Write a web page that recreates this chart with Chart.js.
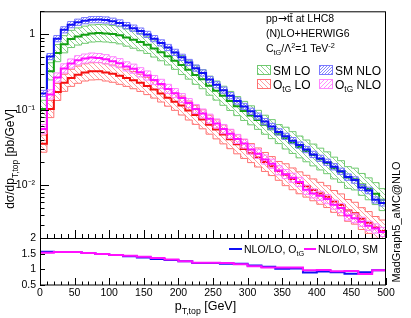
<!DOCTYPE html>
<html><head><meta charset="utf-8">
<script src="https://cdn.jsdelivr.net/npm/chart.js@4.4.1/dist/chart.umd.min.js"></script>
<style>html,body{margin:0;padding:0;background:#fff}#wrap{position:relative;width:411px;height:318px}canvas{position:absolute;left:0;top:0}</style>
</head><body><div id="wrap"><canvas id="c1" width="411" height="318"></canvas><canvas id="c2" width="411" height="318"></canvas></div>
<script>
const ptEdges = [0,10,20,30,40,50,60,70,80,90,100,110,120,130,140,150,160,170,180,190,200,210,220,230,240,250,260,270,280,290,300,310,320,330,340,350,360,370,380,390,400,410,420,430,440,450,460,470,480,490,500];
const ratioEdges = [0,20,40,60,80,100,120,140,160,180,200,220,240,260,280,300,320,340,360,380,400,420,440,460,480,500];
const xTickLabels = [0,50,100,150,200,250,300,350,400,450,500];

const smLO = [0.102,0.321,0.560,0.733,0.861,0.928,0.979,1.018,1.030,1.020,1.000,0.962,0.898,0.843,0.782,0.720,0.644,0.575,0.507,0.443,0.388,0.337,0.288,0.252,0.207,0.178,0.152,0.130,0.111,0.0959,0.0838,0.0730,0.0629,0.0550,0.0473,0.0418,0.0365,0.0319,0.0283,0.0250,0.0221,0.0197,0.0168,0.0151,0.0126,0.0120,0.0102,0.0089,0.0077,0.0064];
const smLOUp = [0.133,0.417,0.728,0.953,1.119,1.206,1.273,1.323,1.339,1.326,1.300,1.251,1.167,1.096,1.017,0.936,0.837,0.748,0.659,0.576,0.520,0.452,0.386,0.338,0.277,0.239,0.204,0.174,0.149,0.1285,0.1123,0.0978,0.0843,0.0737,0.0634,0.0585,0.0511,0.0447,0.0396,0.0350,0.0309,0.0276,0.0235,0.0211,0.0176,0.0168,0.0143,0.0125,0.0108,0.0090];
const smLODown = [0.0785,0.247,0.431,0.564,0.663,0.715,0.754,0.784,0.793,0.785,0.770,0.741,0.691,0.649,0.602,0.554,0.496,0.443,0.390,0.341,0.291,0.253,0.216,0.189,0.155,0.1335,0.114,0.0975,0.0833,0.0719,0.0629,0.0548,0.0472,0.0413,0.0355,0.0301,0.0263,0.0230,0.0204,0.0180,0.0159,0.0142,0.0121,0.0109,0.00907,0.00864,0.00734,0.00641,0.00554,0.00461];

const smNLO = [0.164,0.503,0.869,1.137,1.332,1.432,1.502,1.548,1.552,1.534,1.475,1.402,1.293,1.196,1.094,0.988,0.869,0.764,0.664,0.572,0.492,0.420,0.354,0.305,0.250,0.213,0.181,0.153,0.130,0.110,0.0950,0.0818,0.0694,0.0598,0.0507,0.0443,0.0388,0.0339,0.0296,0.0255,0.0226,0.0201,0.0175,0.0153,0.0128,0.0117,0.0093,0.0085,0.0064,0.0058];
const smNLOUp = [0.180,0.553,0.956,1.251,1.465,1.575,1.652,1.703,1.707,1.687,1.623,1.542,1.422,1.316,1.203,1.087,0.956,0.840,0.730,0.629,0.541,0.462,0.389,0.336,0.275,0.234,0.199,0.168,0.143,0.121,0.1045,0.0900,0.0763,0.0658,0.0558,0.0487,0.0427,0.0373,0.0326,0.0281,0.0249,0.0221,0.0193,0.0168,0.0141,0.0129,0.0102,0.0094,0.0070,0.0064];
const smNLODown = [0.149,0.458,0.791,1.035,1.212,1.303,1.367,1.409,1.412,1.396,1.342,1.276,1.177,1.088,0.996,0.899,0.791,0.695,0.604,0.521,0.448,0.382,0.322,0.278,0.228,0.194,0.165,0.139,0.118,0.100,0.0865,0.0744,0.0632,0.0544,0.0461,0.0403,0.0353,0.0308,0.0269,0.0232,0.0206,0.0183,0.0159,0.0139,0.0116,0.0106,0.0085,0.0077,0.0058,0.0053];

const otgLO = [0.0354,0.1018,0.171,0.226,0.263,0.290,0.311,0.321,0.323,0.311,0.299,0.281,0.263,0.245,0.226,0.205,0.185,0.164,0.144,0.127,0.113,0.097,0.0851,0.0742,0.0631,0.0547,0.0469,0.0405,0.0347,0.0301,0.0265,0.0232,0.0202,0.0178,0.0154,0.0137,0.0121,0.0107,0.00965,0.00864,0.00776,0.00703,0.00607,0.00547,0.00462,0.00424,0.00360,0.00319,0.00275,0.00247];
const otgLOUp = [0.0460,0.1323,0.222,0.294,0.342,0.377,0.404,0.417,0.420,0.404,0.389,0.365,0.342,0.319,0.294,0.267,0.241,0.213,0.187,0.165,0.151,0.130,0.114,0.0994,0.0846,0.0733,0.0628,0.0543,0.0465,0.0403,0.0355,0.0311,0.0271,0.0239,0.0206,0.0192,0.0169,0.0150,0.0135,0.0121,0.0109,0.00984,0.00850,0.00766,0.00647,0.00594,0.00504,0.00447,0.00385,0.00346];
const otgLODown = [0.0273,0.0784,0.132,0.174,0.203,0.223,0.239,0.247,0.249,0.239,0.230,0.216,0.203,0.189,0.174,0.158,0.142,0.126,0.111,0.0978,0.0848,0.0728,0.0638,0.0557,0.0473,0.0410,0.0352,0.0304,0.0260,0.0226,0.0199,0.0174,0.0152,0.0134,0.0116,0.00986,0.00871,0.00770,0.00695,0.00622,0.00559,0.00506,0.00437,0.00394,0.00333,0.00305,0.00259,0.00230,0.00198,0.00178];

const otgNLO = [0.0552,0.159,0.266,0.351,0.407,0.450,0.473,0.488,0.481,0.464,0.436,0.411,0.373,0.348,0.312,0.283,0.246,0.219,0.188,0.165,0.142,0.122,0.102,0.0890,0.0757,0.0656,0.0553,0.0478,0.0409,0.0355,0.0297,0.0260,0.0218,0.0192,0.0157,0.0140,0.0125,0.0110,0.00869,0.00778,0.00722,0.00654,0.00552,0.00498,0.00397,0.00365,0.00328,0.00290,0.00267,0.00240];
const otgNLOUp = [0.0635,0.183,0.306,0.404,0.468,0.518,0.544,0.561,0.553,0.534,0.501,0.473,0.429,0.400,0.359,0.325,0.283,0.252,0.216,0.190,0.163,0.140,0.117,0.102,0.0871,0.0754,0.0636,0.0550,0.0470,0.0408,0.0342,0.0299,0.0251,0.0221,0.0181,0.0161,0.0144,0.0127,0.0100,0.00895,0.00830,0.00752,0.00635,0.00573,0.00457,0.00420,0.00377,0.00334,0.00307,0.00276];
const otgNLODown = [0.0480,0.138,0.231,0.305,0.354,0.392,0.412,0.425,0.418,0.404,0.379,0.358,0.325,0.303,0.271,0.246,0.214,0.191,0.164,0.144,0.124,0.106,0.0887,0.0774,0.0659,0.0571,0.0481,0.0416,0.0356,0.0309,0.0258,0.0226,0.0190,0.0167,0.0137,0.0122,0.0109,0.00957,0.00756,0.00677,0.00628,0.00569,0.00480,0.00433,0.00345,0.00318,0.00285,0.00252,0.00232,0.00209];

const ratioOtG = [1.56,1.55,1.55,1.52,1.49,1.46,1.42,1.38,1.33,1.30,1.26,1.20,1.20,1.18,1.18,1.12,1.08,1.02,1.03,0.90,0.93,0.91,0.86,0.91,0.97];
const ratioSM = [1.53,1.55,1.55,1.52,1.49,1.46,1.43,1.40,1.36,1.31,1.26,1.21,1.21,1.20,1.16,1.10,1.06,1.06,1.06,0.97,0.98,0.94,0.95,0.85,0.97];

const FONT = "'Liberation Sans', Arial, Helvetica, sans-serif";
const SYMFONT = "'DejaVu Sans', sans-serif";

function steps(edges, vals) {
  const pts = vals.map((v, i) => ({x: edges[i], y: v}));
  pts.push({x: edges[edges.length - 1], y: vals[vals.length - 1]});
  return pts;
}
function hatch(color, dir, s, lw) {
  const c = document.createElement('canvas'); c.width = s; c.height = s;
  const g = c.getContext('2d'); g.strokeStyle = color; g.lineWidth = lw; g.beginPath();
  if (dir === '/') {
    g.moveTo(-1, s + 1); g.lineTo(s + 1, -1);
    g.moveTo(-2, 2); g.lineTo(2, -2);
    g.moveTo(s - 2, s + 2); g.lineTo(s + 2, s - 2);
  } else {
    g.moveTo(-1, -1); g.lineTo(s + 1, s + 1);
    g.moveTo(-2, s - 2); g.lineTo(2, s + 2);
    g.moveTo(s - 2, -2); g.lineTo(s + 2, 2);
  }
  g.stroke();
  return g.createPattern(c, 'repeat');
}
const C = {
  green: {line: '#13a013', edge: '#70c970', hatch: hatch('#72c872', '\\', 5, 0.8)},
  blue: {line: '#1010f5', edge: '#7a7aff', hatch: hatch('#6a6aff', '/', 3, 0.8)},
  red: {line: '#f51010', edge: '#ff7070', hatch: hatch('#ff8585', '\\', 5, 0.8)},
  mag: {line: '#ff10ff', edge: '#ff85ff', hatch: hatch('#ff70ff', '/', 4, 0.8)}
};
function band(name, lo, hi, center, col, ord) {
  const base = {stepped: true, pointRadius: 0, pointHoverRadius: 0, tension: 0};
  return [
    Object.assign({label: name + ' low', data: steps(ptEdges, lo), borderColor: col.edge, borderWidth: 1, fill: false, order: ord + 2}, base),
    Object.assign({label: name + ' high', data: steps(ptEdges, hi), borderColor: col.edge, borderWidth: 1, fill: '-1', backgroundColor: col.hatch, order: ord + 1}, base),
    Object.assign({label: name, data: steps(ptEdges, center), borderColor: col.line, borderWidth: 2, fill: false, order: ord}, base)
  ];
}
function fontOf(p, size) { return (size * p[1]) + 'px ' + (p[3] || FONT); }
function rich(ctx, parts, x, y, size, align) {
  let w = 0;
  parts.forEach(p => { ctx.font = fontOf(p, size); w += ctx.measureText(p[0]).width; });
  let cx = align === 'center' ? x - w / 2 : (align === 'right' ? x - w : x);
  ctx.textAlign = 'left'; ctx.textBaseline = 'alphabetic';
  parts.forEach(p => { ctx.font = fontOf(p, size); ctx.fillText(p[0], cx, y + p[2]); cx += ctx.measureText(p[0]).width; });
}
function line(ctx, x1, y1, x2, y2) { ctx.beginPath(); ctx.moveTo(x1, y1); ctx.lineTo(x2, y2); ctx.stroke(); }

const mainDecor = {
  id: 'mainDecor',
  afterDraw(chart) {
    const ctx = chart.ctx, a = chart.chartArea, ys = chart.scales.y, xs = chart.scales.x;
    ctx.save();
    ctx.strokeStyle = '#000'; ctx.lineWidth = 1;
    ctx.strokeRect(a.left + 0.5, a.top + 0.5, a.right - a.left - 1, a.bottom - a.top);
    for (let k = -3; k <= 0; k++) for (let m = 1; m <= 9; m++) {
      const v = m * Math.pow(10, k);
      if (v < ys.min || v > ys.max) continue;
      const py = Math.round(ys.getPixelForValue(v)) + 0.5;
      line(ctx, a.left, py, a.left + (m === 1 ? 9 : 4.5), py);
    }
    for (let i = 0; i < ptEdges.length; i++) {
      const v = ptEdges[i];
      const px = Math.round(xs.getPixelForValue(v)) + 0.5;
      line(ctx, px, a.bottom, px, a.bottom - (v % 50 === 0 ? 8 : 4));
    }
    ctx.fillStyle = '#000';
    rich(ctx, [['pp', 1, 0], ['\u2192', 1.05, 0, SYMFONT], ['tt\u0304 at LHC8', 1, 0]], 266, 22, 10.5, 'left');
    rich(ctx, [['(N)LO+HERWIG6', 1, 0]], 266, 37, 10.5, 'left');
    rich(ctx, [['C', 1, 0], ['tG', 0.7, 2.5], ['/\u039B', 1, 0], ['2', 0.7, -4], ['=1 TeV', 1, 0], ['-2', 0.7, -4]], 266, 52, 10.5, 'left');
    const boxes = [
      [257, 65, C.green, [['SM LO', 1, 0]]],
      [319, 65, C.blue, [['SM NLO', 1, 0]]],
      [257, 79, C.red, [['O', 1, 0], ['tG', 0.7, 3], [' LO', 1, 0]]],
      [319, 79, C.mag, [['O', 1, 0], ['tG', 0.7, 3], [' NLO', 1, 0]]]
    ];
    boxes.forEach(b => {
      ctx.fillStyle = b[2].hatch; ctx.fillRect(b[0], b[1], 13, 9);
      ctx.strokeStyle = b[2].edge; ctx.lineWidth = 1; ctx.strokeRect(b[0] + 0.5, b[1] + 0.5, 13, 9);
      ctx.fillStyle = '#000'; rich(ctx, b[3], b[0] + 16, b[1] + 9.5, 12, 'left');
    });
    ctx.save(); ctx.translate(14, 159); ctx.rotate(-Math.PI / 2);
    rich(ctx, [['d\u03C3/dp', 1, 0], ['T,top', 0.7, 3.5], [' [pb/GeV]', 1, 0]], 0, 0, 12, 'center');
    ctx.restore();
    ctx.save(); ctx.translate(400, 222); ctx.rotate(-Math.PI / 2);
    rich(ctx, [['MadGraph5_aMC@NLO', 1, 0]], 0, 0, 11, 'center');
    ctx.restore();
    ctx.restore();
  }
};

const ratioDecor = {
  id: 'ratioDecor',
  afterDraw(chart) {
    const ctx = chart.ctx, a = chart.chartArea, ys = chart.scales.y, xs = chart.scales.x;
    ctx.save();
    ctx.strokeStyle = '#000'; ctx.lineWidth = 1;
    ctx.strokeRect(a.left + 0.5, a.top + 0.5, a.right - a.left - 1, a.bottom - a.top - 0.5);
    [0.5, 1, 1.5, 2].forEach(v => { const py = Math.round(ys.getPixelForValue(v)) + 0.5; line(ctx, a.left, py, a.left + 5, py); });
    for (let i = 0; i < ptEdges.length; i++) {
      const v = ptEdges[i];
      const px = Math.round(xs.getPixelForValue(v)) + 0.5;
      line(ctx, px, a.bottom, px, a.bottom - (v % 50 === 0 ? 7 : 3.5));
    }
    ctx.lineWidth = 2;
    ctx.strokeStyle = C.blue.line; line(ctx, 229, 249, 242, 249);
    ctx.strokeStyle = C.mag.line; line(ctx, 304, 249, 316, 249);
    ctx.fillStyle = '#000';
    rich(ctx, [['NLO/LO, O', 1, 0], ['tG', 0.7, 3]], 244, 253, 10.5, 'left');
    rich(ctx, [['NLO/LO, SM', 1, 0]], 318, 253, 10.5, 'left');
    rich(ctx, [['p', 1, 0], ['T,top', 0.7, 3.5], [' [GeV]', 1, 0]], 205.5, 310, 12.5, 'center');
    ctx.restore();
  }
};

Chart.defaults.font.family = FONT;
Chart.defaults.color = '#000';

new Chart(document.getElementById('c1'), {
  type: 'line',
  data: {datasets: [].concat(
    band('SM LO', smLODown, smLOUp, smLO, C.green, 40),
    band('SM NLO', smNLODown, smNLOUp, smNLO, C.blue, 20),
    band('OtG LO', otgLODown, otgLOUp, otgLO, C.red, 30),
    band('OtG NLO', otgNLODown, otgNLOUp, otgNLO, C.mag, 10)
  )},
  options: {
    responsive: false, animation: false, parsing: true,
    layout: {padding: {left: 0, right: 25, top: 7, bottom: 80}},
    plugins: {legend: {display: false}, tooltip: {enabled: false}},
    scales: {
      x: {type: 'linear', min: 0, max: 500, display: false},
      y: {type: 'logarithmic', min: 0.002, max: 2,
        afterFit: s => { s.width = 40; },
        grid: {display: false, drawTicks: false}, border: {display: false},
        ticks: {autoSkip: false, padding: 5, font: {size: 10.5},
          callback: v => { const l = Math.log10(v); if (Math.abs(l - Math.round(l)) > 1e-6) return ''; const e = Math.round(l); return e === 0 ? '1' : '10' + (e === -1 ? '\u207B\u00B9' : '\u207B\u00B2'); }}
      }
    }
  },
  plugins: [mainDecor]
});

new Chart(document.getElementById('c2'), {
  type: 'line',
  data: {datasets: [
    {label: 'NLO/LO, OtG', data: steps(ratioEdges, ratioOtG), borderColor: C.blue.line, borderWidth: 2, stepped: true, pointRadius: 0, fill: false, order: 2},
    {label: 'NLO/LO, SM', data: steps(ratioEdges, ratioSM), borderColor: C.mag.line, borderWidth: 2, stepped: true, pointRadius: 0, fill: false, order: 1}
  ]},
  options: {
    responsive: false, animation: false,
    layout: {padding: {left: 0, right: 25, top: 238, bottom: 0}},
    plugins: {legend: {display: false}, tooltip: {enabled: false}},
    scales: {
      x: {type: 'linear', min: 0, max: 500,
        afterFit: s => { s.height = 33; },
        afterBuildTicks: s => { s.ticks = xTickLabels.map(v => ({value: v})); },
        grid: {display: false, drawTicks: false}, border: {display: false},
        ticks: {autoSkip: false, maxRotation: 0, padding: 2, font: {size: 10.5}}},
      y: {type: 'linear', min: 0.5, max: 2,
        afterFit: s => { s.width = 40; },
        afterBuildTicks: s => { s.ticks = [0.5, 1, 1.5, 2].map(v => ({value: v})); },
        grid: {display: false, drawTicks: false}, border: {display: false},
        ticks: {autoSkip: false, padding: 4, font: {size: 10.5}, callback: v => String(v)}}
    }
  },
  plugins: [ratioDecor]
});
</script>
</body></html>
